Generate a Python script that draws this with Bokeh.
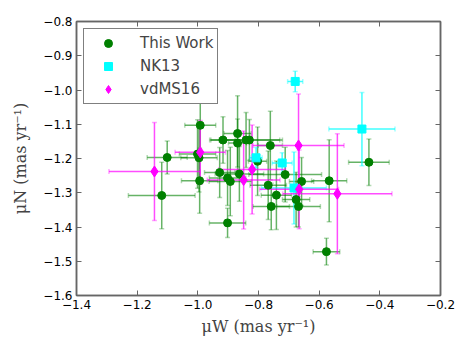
from bokeh.plotting import figure
from bokeh.models import (ColumnDataSource, Whisker, TeeHead, FixedTicker, LinearAxis,
                          CustomJSTickFormatter, Range1d, Legend, LegendItem)
from bokeh.embed import file_html
from bokeh.resources import INLINE

# ---- data ----
tw_x = [-0.992, -1.001, -0.996, -0.994, -1.101, -1.119, -0.902, -0.917, -0.869, -0.869,
        -0.841, -0.830, -0.928, -0.902, -0.893, -0.863, -0.761, -0.803, -0.768, -0.741,
        -0.758, -0.712, -0.658, -0.567, -0.676, -0.668, -0.576, -0.436]
tw_y = [-1.103, -1.187, -1.198, -1.265, -1.197, -1.308, -1.388, -1.146, -1.127, -1.155,
        -1.146, -1.146, -1.241, -1.257, -1.267, -1.245, -1.162, -1.208, -1.278, -1.307,
        -1.340, -1.247, -1.267, -1.265, -1.320, -1.340, -1.472, -1.211]
tw_xerr = [0.051, 0.06, 0.06, 0.06, 0.066, 0.11, 0.06, 0.04, 0.045, 0.03,
           0.12, 0.10, 0.05, 0.06, 0.07, 0.08, 0.04, 0.03, 0.06, 0.05,
           0.06, 0.12, 0.04, 0.058, 0.045, 0.072, 0.044, 0.067]
tw_yerr = [0.09, 0.10, 0.10, 0.095, 0.048, 0.097, 0.043, 0.068, 0.11, 0.07,
           0.08, 0.06, 0.073, 0.08, 0.10, 0.08, 0.10, 0.10, 0.10, 0.10,
           0.068, 0.08, 0.07, 0.12, 0.08, 0.06, 0.039, 0.068]

nk_x = [-0.679, -0.459, -0.722, -0.808, -0.683]
nk_y = [-0.975, -1.114, -1.213, -1.198, -1.286]
nk_xerr = [0.025, 0.109, 0.033, 0.02, 0.107]
nk_yerr = [0.03, 0.107, 0.03, 0.03, 0.105]

vd_x = [-1.143, -0.992, -0.849, -0.821, -0.668, -0.666, -0.540]
vd_y = [-1.238, -1.182, -1.263, -1.232, -1.162, -1.290, -1.303]
vd_xerr = [0.15, 0.083, 0.12, 0.11, 0.15, 0.13, 0.18]
vd_yerr = [0.143, 0.093, 0.143, 0.13, 0.15, 0.115, 0.175]

x_ticks = [-1.4, -1.2, -1.0, -0.8, -0.6, -0.4, -0.2]
y_ticks = [-1.6, -1.5, -1.4, -1.3, -1.2, -1.1, -1.0, -0.9, -0.8]

FRAME = "#666666"

p = figure(frame_width=364, frame_height=274, output_backend="svg", toolbar_location=None,
           x_range=Range1d(-1.4, -0.2), y_range=Range1d(-1.6, -0.8),
           min_border_left=76, min_border_right=20, min_border_top=21, min_border_bottom=48,
           x_axis_label="μW (mas yr⁻¹)", y_axis_label="μN (mas yr⁻¹)")
p.xgrid.visible = False
p.ygrid.visible = False
p.outline_line_color = FRAME
p.outline_line_width = 1.5

fmt = CustomJSTickFormatter(code="return tick.toFixed(1).replace('-', '\u2212');")

def style_axis(ax, ticks, labels=True, standoff=6):
    ax.ticker = FixedTicker(ticks=ticks)
    ax.minor_tick_line_color = None
    ax.major_tick_in = 5
    ax.major_tick_out = 0
    ax.major_tick_line_color = FRAME
    ax.axis_line_color = FRAME
    ax.axis_line_width = 1.5
    if labels:
        ax.formatter = fmt
        ax.major_label_text_font = "DejaVu Sans"
        ax.major_label_text_font_size = "12px"
        ax.major_label_text_color = "black"
        ax.major_label_standoff = 4
        ax.axis_label_text_font = "DejaVu Serif"
        ax.axis_label_text_font_style = "normal"
        ax.axis_label_text_font_size = "16px"
        ax.axis_label_standoff = standoff
    else:
        ax.major_label_text_color = None

style_axis(p.xaxis[0], x_ticks, standoff=5)
style_axis(p.yaxis[0], y_ticks, standoff=10)
top = LinearAxis()
right = LinearAxis()
style_axis(top, x_ticks, labels=False)
style_axis(right, y_ticks, labels=False)
p.add_layout(top, "above")
p.add_layout(right, "right")

def series(xs, ys, xe, ye, color, alpha, marker, size):
    src = ColumnDataSource(dict(
        x=xs, y=ys,
        xl=[a - e for a, e in zip(xs, xe)], xu=[a + e for a, e in zip(xs, xe)],
        yl=[a - e for a, e in zip(ys, ye)], yu=[a + e for a, e in zip(ys, ye)]))
    for dim, lo, hi, base in (("width", "xl", "xu", "y"), ("height", "yl", "yu", "x")):
        w = Whisker(source=src, base=base, lower=lo, upper=hi, dimension=dim,
                    line_color=color, line_alpha=alpha, line_width=1.5,
                    lower_head=TeeHead(size=5, line_color=color, line_alpha=alpha * 0.5, line_width=1.5),
                    upper_head=TeeHead(size=5, line_color=color, line_alpha=alpha * 0.5, line_width=1.5))
        p.add_layout(w)
    return p.scatter("x", "y", source=src, marker=marker, size=size,
                     fill_color=color, line_color=color)

g = series(tw_x, tw_y, tw_xerr, tw_yerr, "green", 0.6, "circle", 8)
c = series(nk_x, nk_y, nk_xerr, nk_yerr, "cyan", 0.75, "square", 8)
m = series(vd_x, vd_y, vd_xerr, vd_yerr, "magenta", 0.7, "diamond", 11)

legend = Legend(items=[LegendItem(label="This Work", renderers=[g]),
                       LegendItem(label="NK13", renderers=[c]),
                       LegendItem(label="vdMS16", renderers=[m])],
                location="top_left")
legend.label_text_font = "DejaVu Sans"
legend.label_text_font_size = "15px"
legend.border_line_color = "black"
legend.border_line_width = 1
legend.margin = 7
legend.padding = 4
legend.spacing = 3
legend.label_height = 20
legend.glyph_height = 20
legend.glyph_width = 40
legend.label_standoff = 12
legend.background_fill_alpha = 1.0
p.add_layout(legend)

open("out.html", "w").write(file_html(p, INLINE))
